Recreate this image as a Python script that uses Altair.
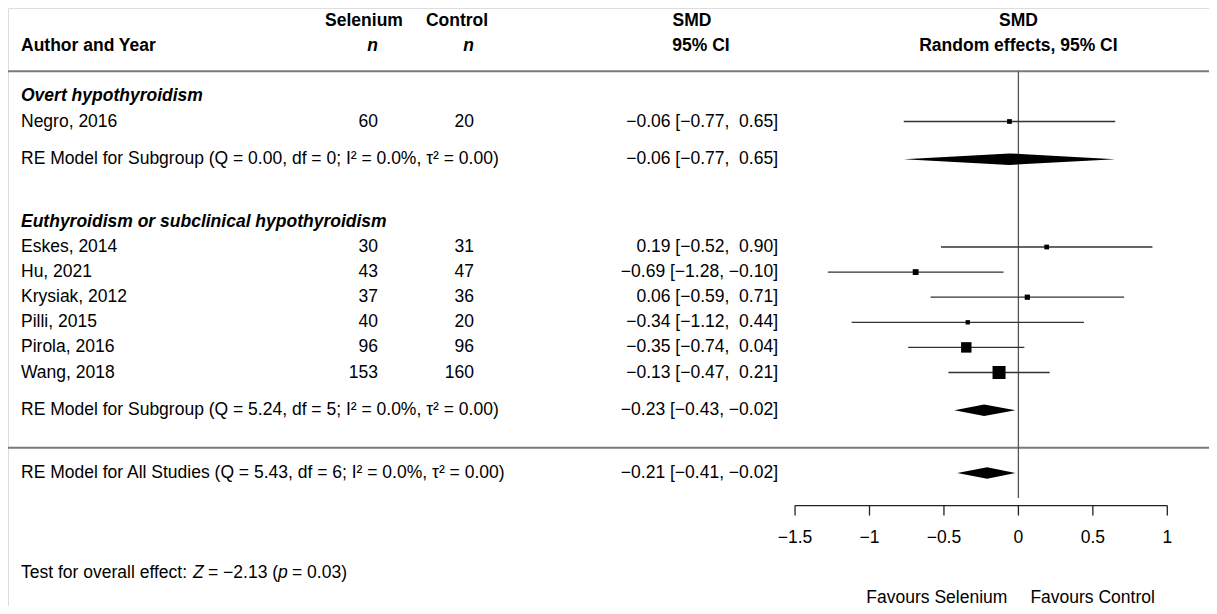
import altair as alt
import pandas as pd

FONT = "Liberation Sans"
FS = 17.5
W, H = 1201, 598

# ---------------- data ----------------
group_labels = ["Overt hypothyroidism", "Euthyroidism or subclinical hypothyroidism"]
group_rows = [3, 8]

studies = ["Negro, 2016", "Eskes, 2014", "Hu, 2021", "Krysiak, 2012",
           "Pilli, 2015", "Pirola, 2016", "Wang, 2018"]
study_rows = [4, 9, 10, 11, 12, 13, 14]
n_selenium = [60, 30, 43, 37, 40, 96, 153]
n_control = [20, 31, 47, 36, 20, 96, 160]
smd = [-0.06, 0.19, -0.69, 0.06, -0.34, -0.35, -0.13]
ci_low = [-0.77, -0.52, -1.28, -0.59, -1.12, -0.74, -0.47]
ci_high = [0.65, 0.90, -0.10, 0.71, 0.44, 0.04, 0.21]

summary_labels = [
    "RE Model for Subgroup (Q = 0.00, df = 0; I² = 0.0%, τ² = 0.00)",
    "RE Model for Subgroup (Q = 5.24, df = 5; I² = 0.0%, τ² = 0.00)",
    "RE Model for All Studies (Q = 5.43, df = 6; I² = 0.0%, τ² = 0.00)",
]
summary_rows = [5.5, 15.5, 18]
summary_est = [-0.06, -0.23, -0.21]
summary_low = [-0.77, -0.43, -0.41]
summary_high = [0.65, -0.02, -0.02]

tick_values = [-1.5, -1, -0.5, 0, 0.5, 1]
tick_labels = ["−1.5", "−1", "−0.5", "0", "0.5", "1"]

# ---------------- layout constants ----------------
ZERO_PX = 1010.4      # chart x of SMD = 0
UNIT_PX = 148.9       # px per SMD unit
ROW_PX = 25.1
ROW0_PX = 13.1        # chart y of row 0
xs = alt.Scale(domain=[-ZERO_PX / UNIT_PX, (W - ZERO_PX) / UNIT_PX], nice=False, zero=False)
ys = alt.Scale(domain=[-ROW0_PX / ROW_PX, (H - ROW0_PX) / ROW_PX], nice=False, zero=False, reverse=True)


def X(f):
    return alt.X(f, type="quantitative", scale=xs, axis=None)


def Y(f):
    return alt.Y(f, type="quantitative", scale=ys, axis=None)


def fmt(v):
    return f"{v:.2f}".replace("-", "−")


def ci_text(e, l, h):
    hs = fmt(h) if h < 0 else "\u00a0" + fmt(h)
    return f"{fmt(e)} [{fmt(l)}, {hs}]"


# study table
st = pd.DataFrame({
    "label": studies, "row": study_rows, "ns": n_selenium, "nc": n_control,
    "est": smd, "lo": ci_low, "hi": ci_high,
})
st["ci"] = [ci_text(e, l, h) for e, l, h in zip(smd, ci_low, ci_high)]
se = [(h - l) / 3.92 for l, h in zip(ci_low, ci_high)]
w = [1 / s ** 2 for s in se]
side = [8.67 * (0.5 + (wi - min(w)) / (max(w) - min(w))) for wi in w]
st["area"] = [s ** 2 for s in side]

sm = pd.DataFrame({"label": summary_labels, "row": summary_rows})
sm["ci"] = [ci_text(e, l, h) for e, l, h in zip(summary_est, summary_low, summary_high)]

gp = pd.DataFrame({"label": group_labels, "row": group_rows})

HALF = 0.23
dia_rows = []
for i, (r, e, l, h) in enumerate(zip(summary_rows, summary_est, summary_low, summary_high)):
    dia_rows += [
        {"id": i, "x": l, "y": r, "y2": r},
        {"id": i, "x": e, "y": r - HALF, "y2": r + HALF},
        {"id": i, "x": h, "y": r, "y2": r},
    ]
dia = pd.DataFrame(dia_rows)


def txt(df, field, x, align, weight="normal", style="normal", dx=0, xfield=False):
    return alt.Chart(df).mark_text(
        align=align, baseline="middle", font=FONT, fontSize=FS,
        fontWeight=weight, fontStyle=style, color="black", dx=dx,
    ).encode(
        x=X(x) if xfield else alt.value(x),
        y=Y("row"),
        text=alt.Text(field, type="nominal"),
    )


layers = []

# headers
h1 = pd.DataFrame({"row": [0]})
h2 = pd.DataFrame({"row": [1]})
layers += [
    txt(h2.assign(t="Author and Year"), "t", 13, "left", "bold"),
    txt(h1.assign(t="Selenium"), "t", 356, "center", "bold"),
    txt(h2.assign(t="n"), "t", 370, "right", "bold", "italic"),
    txt(h1.assign(t="Control"), "t", 449, "center", "bold"),
    txt(h2.assign(t="n"), "t", 466, "right", "bold", "italic"),
    txt(h1.assign(t="SMD"), "t", 684, "center", "bold"),
    txt(h2.assign(t="95% CI"), "t", 693, "center", "bold"),
    txt(h1.assign(t="SMD", x=0), "t", "x", "center", "bold", xfield=True),
    txt(h2.assign(t="Random effects, 95% CI", x=0), "t", "x", "center", "bold", xfield=True),
]

# separator lines
sep = pd.DataFrame({"row": [2, 17]})
layers.append(alt.Chart(sep).mark_rule(color="#7a7a7a", strokeWidth=2).encode(y=Y("row")))

# zero line
zl = pd.DataFrame({"x": [0], "y": [2], "y2": [19.0]})
layers.append(alt.Chart(zl).mark_rule(color="#555555", strokeWidth=1.3).encode(
    x=X("x"), y=Y("y"), y2="y2"))

# left text columns
layers += [
    txt(gp, "label", 13, "left", "bold", "italic"),
    txt(st, "label", 13, "left"),
    txt(st, "ns", 370, "right"),
    txt(st, "nc", 466, "right"),
    txt(st, "ci", 770, "right"),
    txt(sm, "label", 13, "left"),
    txt(sm, "ci", 770, "right"),
]

# CI lines and squares
layers.append(alt.Chart(st).mark_rule(color="#333333", strokeWidth=1.3).encode(
    x=X("lo"), x2="hi", y=Y("row")))
layers.append(alt.Chart(st).mark_square(filled=True, color="black", opacity=1).encode(
    x=X("est"), y=Y("row"), size=alt.Size("area", type="quantitative", scale=None)))

# diamonds
layers.append(alt.Chart(dia).mark_area(color="black", orient="vertical", opacity=1).encode(
    x=X("x"), y=Y("y"), y2="y2", detail="id:N"))

# x axis (drawn manually)
AX_ROW, TICK_END, LAB_ROW = 19.3, 19.7, 20.6
ax = pd.DataFrame({"x": [min(tick_values)], "x2": [max(tick_values)], "y": [AX_ROW]})
layers.append(alt.Chart(ax).mark_rule(color="#222222", strokeWidth=1.3).encode(
    x=X("x"), x2="x2", y=Y("y")))
tk = pd.DataFrame({"x": tick_values, "lab": tick_labels, "y": AX_ROW, "y2": TICK_END, "row": LAB_ROW})
layers.append(alt.Chart(tk).mark_rule(color="#222222", strokeWidth=1.3).encode(
    x=X("x"), y=Y("y"), y2="y2"))
layers.append(txt(tk, "lab", "x", "center", xfield=True))

# favours labels
fav = pd.DataFrame({"x": [0], "row": [23.0]})
layers.append(txt(fav.assign(t="Favours Selenium"), "t", "x", "right", dx=-11, xfield=True))
layers.append(txt(fav.assign(t="Favours Control"), "t", "x", "left", dx=12, xfield=True))

# overall test line with italic Z and p
tr = pd.DataFrame({"row": [22]})
layers += [
    txt(tr.assign(t="Test for overall effect:"), "t", 13, "left"),
    txt(tr.assign(t="Z"), "t", 185, "left", style="italic"),
    txt(tr.assign(t="= −2.13 ("), "t", 200, "left"),
    txt(tr.assign(t="p"), "t", 270, "left", style="italic"),
    txt(tr.assign(t="= 0.03)"), "t", 284, "left"),
]

chart = alt.layer(*layers).properties(
    width=W, height=H,
    autosize=alt.AutoSizeParams(type="none"),
    padding=0,
).configure_view(stroke=None).configure(background="white")

chart.save("out.html", embed_options={"renderer": "svg", "actions": False})
